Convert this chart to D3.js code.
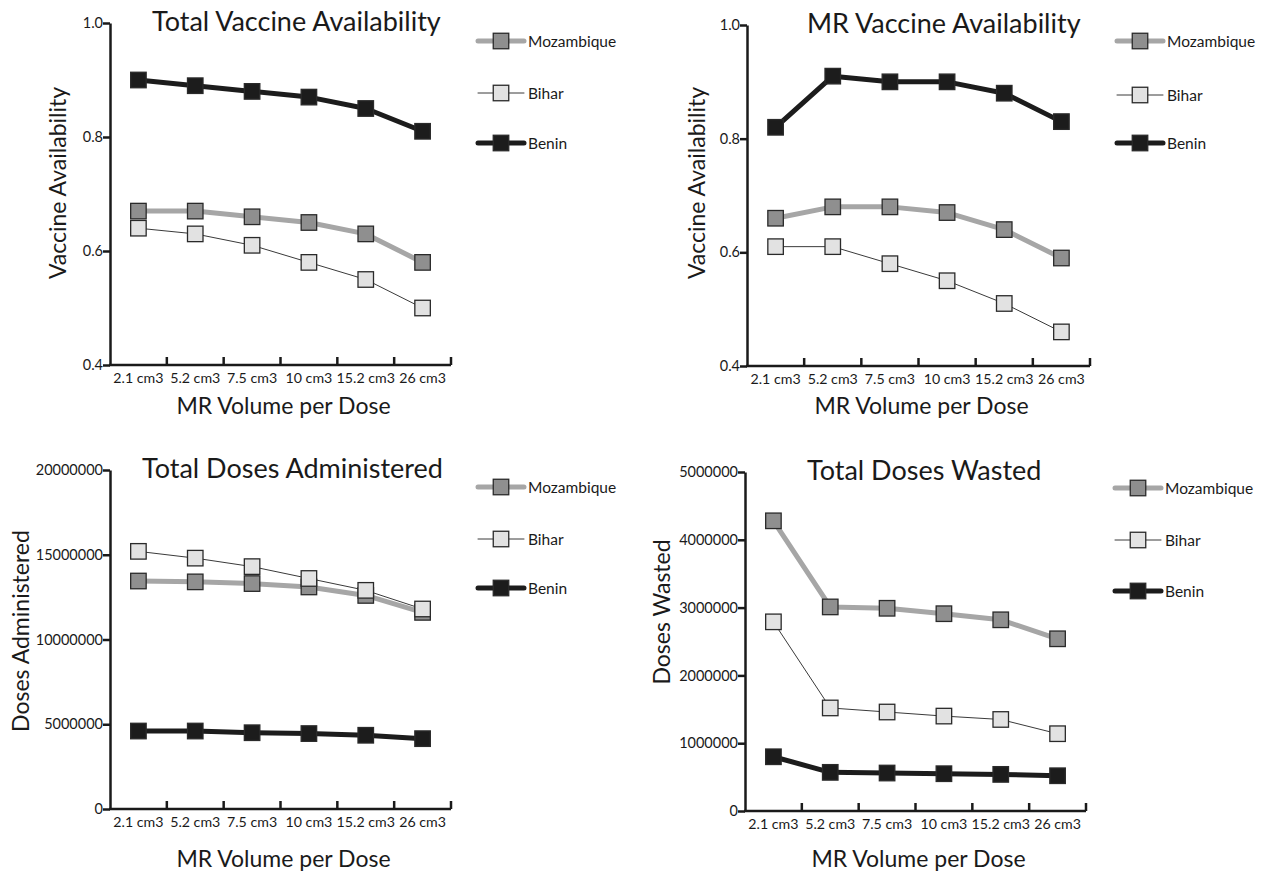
<!DOCTYPE html>
<html>
<head>
<meta charset="utf-8">
<script src="https://cdn.jsdelivr.net/npm/d3@7"></script>
<style>
  body { margin: 0; background: #fff; }
  text { font-family: Lato, "Open Sans", sans-serif; fill: #1a1a1a; }
</style>
</head>
<body>
<script>
/* ----------------------------- Data ----------------------------- */
const categories = ["2.1 cm3", "5.2 cm3", "7.5 cm3", "10 cm3", "15.2 cm3", "26 cm3"];
const countries = ["Mozambique", "Bihar", "Benin"];

// Total Vaccine Availability
const totalAvailMozambique = [0.67, 0.67, 0.66, 0.65, 0.63, 0.58];
const totalAvailBihar = [0.64, 0.63, 0.61, 0.58, 0.55, 0.50];
const totalAvailBenin = [0.90, 0.89, 0.88, 0.87, 0.85, 0.81];

// MR Vaccine Availability
const mrAvailMozambique = [0.66, 0.68, 0.68, 0.67, 0.64, 0.59];
const mrAvailBihar = [0.61, 0.61, 0.58, 0.55, 0.51, 0.46];
const mrAvailBenin = [0.82, 0.91, 0.90, 0.90, 0.88, 0.83];

// Total Doses Administered
const administeredMozambique = [13450000, 13400000, 13300000, 13100000, 12600000, 11600000];
const administeredBihar = [15200000, 14800000, 14300000, 13600000, 12900000, 11800000];
const administeredBenin = [4600000, 4600000, 4500000, 4450000, 4350000, 4150000];

// Total Doses Wasted
const wastedMozambique = [4280000, 3010000, 2990000, 2910000, 2820000, 2540000];
const wastedBihar = [2790000, 1520000, 1460000, 1400000, 1350000, 1140000];
const wastedBenin = [800000, 570000, 560000, 550000, 540000, 520000];

// Tick labels
const availTicks = [0.4, 0.6, 0.8, 1.0];
const administeredTicks = [0, 5000000, 10000000, 15000000, 20000000];
const wastedTicks = [0, 1000000, 2000000, 3000000, 4000000, 5000000];

/* ----------------------------- Styles ----------------------------- */
const seriesStyle = {
    Mozambique: { line: "#a6a6a6", width: 5, fill: "#8f8f8f" },
    Bihar: { line: "#3a3a3a", width: 1, fill: "#e2e2e2" },
    Benin: { line: "#1c1c1c", width: 5, fill: "#1c1c1c" }
}
const markerSize = 15.5;

/* ----------------------------- Panels ----------------------------- */
const panels = [
    { title: "Total Vaccine Availability", titleX: 152, yLabel: "Vaccine Availability", yLabelX: 66, yLabelY: 183, xLabelY: 414,
      x0: 110, x1: 451, yTop: 23, yBottom: 365, ticks: availTicks, fmt: d3.format(".1f"),
      values: [totalAvailMozambique, totalAvailBihar, totalAvailBenin], legendX: 478, legendY: [41, 93, 143] },
    { title: "MR Vaccine Availability", titleX: 807, yLabel: "Vaccine Availability", yLabelX: 705, yLabelY: 183, xLabelY: 414,
      x0: 747, x1: 1090, yTop: 25, yBottom: 366, ticks: availTicks, fmt: d3.format(".1f"),
      values: [mrAvailMozambique, mrAvailBihar, mrAvailBenin], legendX: 1117, legendY: [41, 95, 143] },
    { title: "Total Doses Administered", titleX: 142, yLabel: "Doses Administered", yLabelX: 29, yLabelY: 631, xLabelY: 867,
      x0: 110, x1: 451, yTop: 470, yBottom: 809, ticks: administeredTicks, fmt: d3.format("d"),
      values: [administeredMozambique, administeredBihar, administeredBenin], legendX: 478, legendY: [487, 539, 588] },
    { title: "Total Doses Wasted", titleX: 807, yLabel: "Doses Wasted", yLabelX: 670, yLabelY: 612, xLabelY: 867,
      x0: 745, x1: 1086, yTop: 472, yBottom: 811, ticks: wastedTicks, fmt: d3.format("d"),
      values: [wastedMozambique, wastedBihar, wastedBenin], legendX: 1115, legendY: [488, 540, 591] }
]

const svg = d3.select("body").append("svg")
    .attr("width", 1266)
    .attr("height", 875);

panels.forEach(drawPanel);

function drawPanel(p) {
    const g = svg.append("g");
    const x = d3.scaleBand().domain(categories).range([p.x0, p.x1]);
    const y = d3.scaleLinear().domain(d3.extent(p.ticks)).range([p.yBottom, p.yTop]);
    const cx = d => x(d) + x.bandwidth() / 2;

    //y axis
    const yAxis = g.append("g")
        .attr("transform", `translate(${p.x0},0)`)
        .call(d3.axisLeft(y).tickValues(p.ticks).tickFormat(p.fmt).tickSize(7).tickSizeOuter(0));
    yAxis.select(".domain").attr("stroke", "#1a1a1a").attr("stroke-width", 2.5);
    yAxis.selectAll(".tick line").attr("stroke", "#1a1a1a").attr("stroke-width", 2.5);
    yAxis.selectAll(".tick text").attr("font-size", 14.5).attr("font-family", "Lato").attr("x", -7);

    //x axis, ticks on band edges pointing inward
    const xAxis = g.append("g")
        .attr("transform", `translate(0,${p.yBottom})`);
    xAxis.append("line")
        .attr("x1", p.x0 - 1).attr("x2", p.x1)
        .attr("stroke", "#1a1a1a").attr("stroke-width", 2.5);
    xAxis.selectAll(".edge")
        .data(categories)
        .enter()
        .append("line")
        .attr("x1", d => x(d) + x.bandwidth())
        .attr("x2", d => x(d) + x.bandwidth())
        .attr("y1", 0).attr("y2", -8)
        .attr("stroke", "#1a1a1a").attr("stroke-width", 2.5);
    xAxis.selectAll(".cat")
        .data(categories)
        .enter()
        .append("text")
        .attr("x", cx)
        .attr("y", 18)
        .attr("text-anchor", "middle")
        .attr("font-size", 14.2)
        .text(d => d);

    //titles
    g.append("text")
        .attr("x", p.titleX).attr("y", p.yTop + 8)
        .attr("font-size", 27)
        .text(p.title);
    g.append("text")
        .attr("transform", `translate(${p.yLabelX},${p.yLabelY}) rotate(-90)`)
        .attr("text-anchor", "middle")
        .attr("font-size", 23)
        .text(p.yLabel);
    g.append("text")
        .attr("x", (p.x0 + p.x1) / 2 + 3).attr("y", p.xLabelY)
        .attr("text-anchor", "middle")
        .attr("font-size", 23)
        .text("MR Volume per Dose");

    //lines and markers
    const line = d3.line().x((d, i) => cx(categories[i])).y(d => y(d));
    countries.forEach((c, k) => {
        const s = seriesStyle[c];
        const vals = p.values[k];
        g.append("path")
            .datum(vals)
            .attr("d", line)
            .attr("fill", "none")
            .attr("stroke", s.line)
            .attr("stroke-width", s.width)
            .attr("stroke-linejoin", "round");
        g.selectAll(".m" + k)
            .data(vals)
            .enter()
            .append("rect")
            .attr("x", (d, i) => cx(categories[i]) - markerSize / 2)
            .attr("y", d => y(d) - markerSize / 2)
            .attr("width", markerSize)
            .attr("height", markerSize)
            .attr("fill", s.fill)
            .attr("stroke", "#2a2a2a")
            .attr("stroke-width", 1.3);

        //legend
        const ly = p.legendY[k];
        const lg = g.append("g").attr("transform", `translate(${p.legendX},${ly})`);
        lg.append("line")
            .attr("x1", 0).attr("x2", 46)
            .attr("stroke", s.line)
            .attr("stroke-width", s.width)
            .attr("stroke-linecap", "round");
        lg.append("rect")
            .attr("x", 23 - markerSize / 2).attr("y", -markerSize / 2)
            .attr("width", markerSize).attr("height", markerSize)
            .attr("fill", s.fill)
            .attr("stroke", "#2a2a2a")
            .attr("stroke-width", 1.3);
        lg.append("text")
            .attr("x", 50).attr("y", 5.5)
            .attr("font-size", 15.5)
            .text(c);
    });
}
</script>
</body>
</html>
